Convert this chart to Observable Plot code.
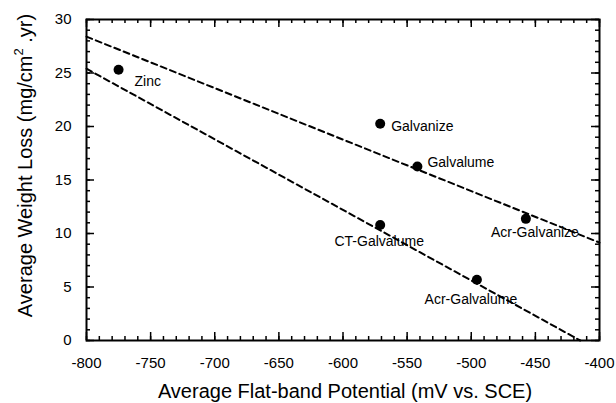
<!DOCTYPE html>
<html>
<head>
<meta charset="utf-8">
<script src="https://cdn.jsdelivr.net/npm/d3@7"></script>
<script src="https://cdn.jsdelivr.net/npm/@observablehq/plot@0.6"></script>
<style>
  html, body { margin: 0; padding: 0; background: #fff; }
  #chart { width: 616px; height: 403px; }
</style>
</head>
<body>
<div id="chart"></div>
<script>
// ---- data ----
const materials  = ["Zinc", "Galvanize", "Galvalume", "CT-Galvalume", "Acr-Galvanize", "Acr-Galvalume"];
const potential  = [-775, -571, -542, -571, -457.4, -495.6];   // mV vs. SCE
const weightLoss = [25.3, 20.25, 16.26, 10.8, 11.37, 5.67];     // mg/cm2.yr

// dashed trend lines (end points)
const upperFitX = [-800, -400];
const upperFitY = [28.4, 9.15];
const lowerFitX = [-800, -415];
const lowerFitY = [25.4, 0];

// ticks
const xTicks = [-800, -750, -700, -650, -600, -550, -500, -450, -400];
const yTicks = [0, 5, 10, 15, 20, 25, 30];
const xMinor = d3.range(-800, -399, 10);
const yMinor = d3.range(0, 30.01, 1);

const xTitle = "Average Flat-band Potential (mV vs. SCE)";
const yTitleMain = "Average Weight Loss (mg/cm";
const yTitleSup = "2";
const yTitleEnd = " .yr)";

// ---- build tables ----
const points = materials.map((m, i) => ({name: m, x: potential[i], y: weightLoss[i]}));
const upperFit = upperFitX.map((x, i) => ({x, y: upperFitY[i]}));
const lowerFit = lowerFitX.map((x, i) => ({x, y: lowerFitY[i]}));

// label placement (styling, not data)
const labelStyle = {
  "Zinc":          {dx: 16,  dy: 12,  textAnchor: "start"},
  "Galvanize":     {dx: 11,  dy: 3,   textAnchor: "start"},
  "Galvalume":     {dx: 10,  dy: -4,  textAnchor: "start"},
  "CT-Galvalume":  {dx: -1,  dy: 17,  textAnchor: "middle"},
  "Acr-Galvanize": {dx: 9,   dy: 14,  textAnchor: "middle"},
  "Acr-Galvalume": {dx: -6,  dy: 20,  textAnchor: "middle"}
};

const font = "'Liberation Sans', Arial, Helvetica, sans-serif";

const labelMarks = points.map(p => Plot.text([p], {
  x: "x", y: "y", text: "name",
  fontSize: 14, fill: "black",
  ...labelStyle[p.name]
}));

const W = 616, H = 403, mL = 86, mR = 17, mT = 19, mB = 63;
const yLo = 0, yHi = 30, xLo = -800, xHi = -400;
// tick lengths in pixels converted to data units of each scale
const pxX = (xHi - xLo) / (W - mL - mR);
const pxY = (yHi - yLo) / (H - mT - mB);
const major = 8, minor = 4, tickW = 1.5;
const tk = {stroke: "black", strokeWidth: tickW};

const chart = Plot.plot({
  width: W,
  height: H,
  marginLeft: mL,
  marginRight: mR,
  marginTop: mT,
  marginBottom: mB,
  style: {fontFamily: font, fontSize: "15px", background: "white", color: "black"},
  x: {domain: [xLo, xHi]},
  y: {domain: [yLo, yHi], ticks: yTicks, tickSize: 0, tickPadding: 15, label: null, tickFormat: d => String(d)},
  marks: [
    // inward ticks on all four sides (minor & major)
    Plot.ruleX(xMinor, {x: d => d, y1: yLo, y2: yLo + minor * pxY, ...tk}),
    Plot.ruleX(xTicks, {x: d => d, y1: yLo, y2: yLo + major * pxY, ...tk}),
    Plot.ruleX(xMinor, {x: d => d, y1: yHi - minor * pxY, y2: yHi, ...tk}),
    Plot.ruleX(xTicks, {x: d => d, y1: yHi - major * pxY, y2: yHi, ...tk}),
    Plot.ruleY(yMinor, {y: d => d, x1: xLo, x2: xLo + minor * pxX, ...tk}),
    Plot.ruleY(yTicks, {y: d => d, x1: xLo, x2: xLo + major * pxX, ...tk}),
    Plot.ruleY(yMinor, {y: d => d, x1: xHi - minor * pxX, x2: xHi, ...tk}),
    Plot.ruleY(yTicks, {y: d => d, x1: xHi - major * pxX, x2: xHi, ...tk}),
    // x tick labels
    Plot.axisX(xTicks, {anchor: "bottom", tickSize: 0, tickPadding: 17, fontSize: 15, label: null, tickFormat: d => String(d)}),
    // dashed fits
    Plot.line(upperFit, {x: "x", y: "y", stroke: "black", strokeWidth: 2, strokeDasharray: "6,4"}),
    Plot.line(lowerFit, {x: "x", y: "y", stroke: "black", strokeWidth: 2, strokeDasharray: "6,4"}),
    // points
    Plot.dot(points, {x: "x", y: "y", r: 5, fill: "black", stroke: "none"}),
    ...labelMarks,
    Plot.frame({stroke: "black", strokeWidth: 2})
  ]
});

document.getElementById("chart").appendChild(chart);

// axis titles (y title needs a superscript)
const svg = d3.select(chart);
svg.append("text")
  .attr("x", 345).attr("y", 398)
  .attr("text-anchor", "middle")
  .attr("font-family", font)
  .attr("font-size", 20)
  .attr("fill", "black")
  .text(xTitle);

const yt = svg.append("text")
  .attr("transform", "translate(31.5,165.5) rotate(-90)")
  .attr("text-anchor", "middle")
  .attr("font-family", font)
  .attr("font-size", 20)
  .attr("fill", "black");
yt.append("tspan").text(yTitleMain);
yt.append("tspan").attr("font-size", 13).attr("dy", -9).text(yTitleSup);
yt.append("tspan").attr("dy", 9).text(yTitleEnd);
</script>
</body>
</html>
